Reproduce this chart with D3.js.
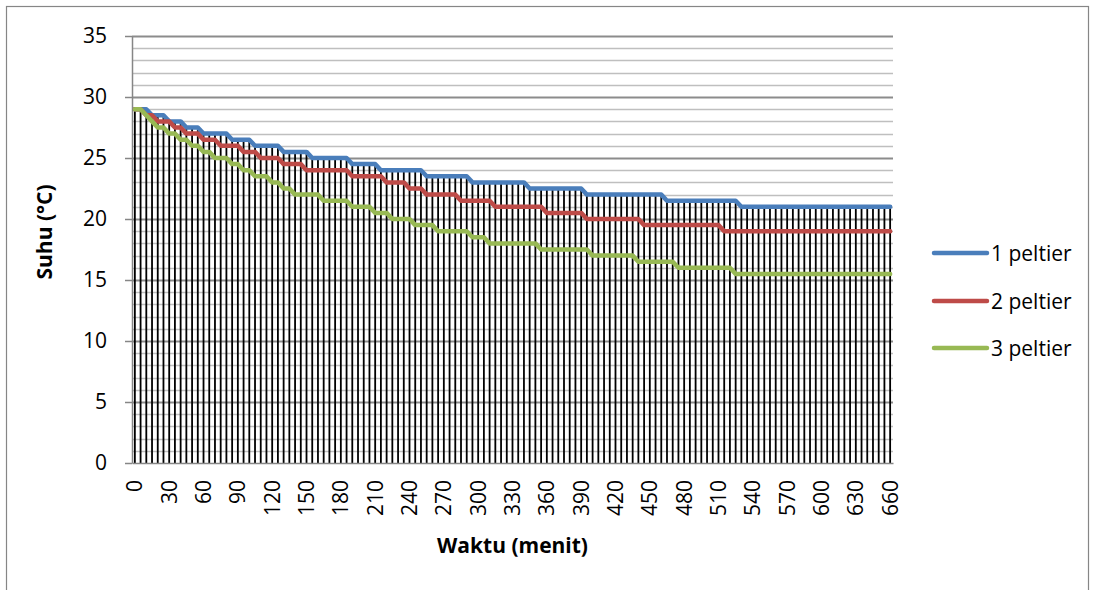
<!DOCTYPE html>
<html>
<head>
<meta charset="utf-8">
<script src="https://cdn.jsdelivr.net/npm/d3@7"></script>
<style>
  html, body { margin: 0; padding: 0; background: #fff; }
  svg { display: block; font-family: "Open Sans", "Noto Sans", sans-serif; }
</style>
</head>
<body>
<svg id="chart" width="1095" height="590"></svg>
<script>
// ---- data ----
const categories = [
  0,5,10,15,20,25,30,35,40,45,
  50,55,60,65,70,75,80,85,90,95,
  100,105,110,115,120,125,130,135,140,145,
  150,155,160,165,170,175,180,185,190,195,
  200,205,210,215,220,225,230,235,240,245,
  250,255,260,265,270,275,280,285,290,295,
  300,305,310,315,320,325,330,335,340,345,
  350,355,360,365,370,375,380,385,390,395,
  400,405,410,415,420,425,430,435,440,445,
  450,455,460,465,470,475,480,485,490,495,
  500,505,510,515,520,525,530,535,540,545,
  550,555,560,565,570,575,580,585,590,595,
  600,605,610,615,620,625,630,635,640,645,
  650,655,660
];
const seriesNames = ["1 peltier", "2 peltier", "3 peltier"];
const peltier1 = [
  29,29,29, 28.5,28.5,28.5, 28,28,28, 27.5,27.5,27.5,
  27,27,27,27,27, 26.5,26.5,26.5,26.5, 26,26,26,26,26,
  25.5,25.5,25.5,25.5,25.5, 25,25,25,25,25,25,25,
  24.5,24.5,24.5,24.5,24.5, 24,24,24,24,24,24,24,24,
  23.5,23.5,23.5,23.5,23.5,23.5,23.5,23.5,
  23,23,23,23,23,23,23,23,23,23,
  22.5,22.5,22.5,22.5,22.5,22.5,22.5,22.5,22.5,22.5,
  22,22,22,22,22,22,22,22,22,22,22,22,22,22,
  21.5,21.5,21.5,21.5,21.5,21.5,21.5,21.5,21.5,21.5,21.5,21.5,21.5,
  21,21,21,21,21,21,21,21,21,21,21,21,21,21,21,21,21,21,21,21,21,21,21,21,21,21,21
];
const peltier2 = [
  29,29, 28.5,28.5, 28,28,28, 27.5,27.5, 27,27,27, 26.5,26.5,26.5,
  26,26,26,26, 25.5,25.5,25.5, 25,25,25,25, 24.5,24.5,24.5,24.5,
  24,24,24,24,24,24,24,24, 23.5,23.5,23.5,23.5,23.5,23.5,
  23,23,23,23, 22.5,22.5,22.5, 22,22,22,22,22,22,
  21.5,21.5,21.5,21.5,21.5,21.5, 21,21,21,21,21,21,21,21,21,
  20.5,20.5,20.5,20.5,20.5,20.5,20.5, 20,20,20,20,20,20,20,20,20,20,
  19.5,19.5,19.5,19.5,19.5,19.5,19.5,19.5,19.5,19.5,19.5,19.5,19.5,19.5,
  19,19,19,19,19,19,19,19,19,19,19,19,19,19,19,19,19,19,19,19,19,19,19,19,19,19,19,19,19,19
];
const peltier3 = [
  29,29, 28.5, 28, 27.5,27.5, 27,27, 26.5,26.5, 26,26, 25.5,25.5,
  25,25,25, 24.5,24.5, 24,24, 23.5,23.5,23.5, 23,23, 22.5,22.5,
  22,22,22,22,22, 21.5,21.5,21.5,21.5,21.5, 21,21,21,21, 20.5,20.5,20.5,
  20,20,20,20, 19.5,19.5,19.5,19.5, 19,19,19,19,19,19, 18.5,18.5,18.5,
  18,18,18,18,18,18,18,18,18, 17.5,17.5,17.5,17.5,17.5,17.5,17.5,17.5,17.5,
  17,17,17,17,17,17,17,17, 16.5,16.5,16.5,16.5,16.5,16.5,16.5,
  16,16,16,16,16,16,16,16,16,16,
  15.5,15.5,15.5,15.5,15.5,15.5,15.5,15.5,15.5,15.5,15.5,15.5,15.5,15.5,
  15.5,15.5,15.5,15.5,15.5,15.5,15.5,15.5,15.5,15.5,15.5,15.5,15.5,15.5
];
const xTickLabels = [0,30,60,90,120,150,180,210,240,270,300,330,360,390,420,450,480,510,540,570,600,630,660];
const yTickLabels = [0,5,10,15,20,25,30,35];
const yMinorTicks = [1,2,3,4,6,7,8,9,11,12,13,14,16,17,18,19,21,22,23,24,26,27,28,29,31,32,33,34];
const colors = ["#4A7EBB", "#BE4B48", "#98B954"];
const xTitle = "Waktu (menit)";
const yTitle = "Suhu (°C)";

// ---- chart ----
const allSeries = [peltier1, peltier2, peltier3];
const svg = d3.select("#chart");
const L = 132, R = 893, T = 36, B = 463;

const x = d3.scaleBand().domain(categories).range([L, R]);
const cx = d => x(d) + x.bandwidth() / 2;
const y = d3.scaleLinear().domain([0, 35]).range([B, T]);

// chart area border
svg.append("rect")
  .attr("x", 6.5).attr("y", 6.5).attr("width", 1082).attr("height", 620)
  .attr("fill", "none").attr("stroke", "#868686").attr("stroke-width", 1.2);

// minor gridlines
svg.append("g").selectAll("line").data(yMinorTicks).join("line")
  .attr("x1", L).attr("x2", R)
  .attr("y1", d => Math.round(y(d)) + 0.5).attr("y2", d => Math.round(y(d)) + 0.5)
  .attr("stroke", "#BFBFBF").attr("stroke-width", 1.5);

// major gridlines
svg.append("g").selectAll("line").data(yTickLabels.filter(d => d > 0)).join("line")
  .attr("x1", L).attr("x2", R)
  .attr("y1", d => Math.round(y(d)) + 0.5).attr("y2", d => Math.round(y(d)) + 0.5)
  .attr("stroke", "#8C8C8C").attr("stroke-width", 1.8);

// drop lines
svg.append("g").selectAll("line").data(categories).join("line")
  .attr("x1", d => cx(d)).attr("x2", d => cx(d))
  .attr("y1", (d, i) => y(d3.max(allSeries, s => s[i])))
  .attr("y2", B)
  .attr("stroke", "#000").attr("stroke-width", 1.8);

// axes
const yAxis = d3.axisLeft(y).tickValues(yTickLabels).tickSize(7).tickSizeOuter(0).tickPadding(18);
const gy = svg.append("g").attr("transform", `translate(${L},0)`).call(yAxis);
gy.select(".domain").attr("stroke", "#868686").attr("stroke-width", 1.5);
gy.selectAll(".tick line").attr("stroke", "#868686").attr("stroke-width", 1.5);
gy.selectAll(".tick text").attr("font-size", 21).attr("fill", "#000")
  .attr("font-family", "'Open Sans', sans-serif");

const xAxis = d3.axisBottom(x).tickValues(xTickLabels).tickSize(0).tickSizeOuter(0).tickFormat(d => String(d));
const gx = svg.append("g").attr("transform", `translate(0,${B})`).call(xAxis);
gx.select(".domain").attr("stroke", "#868686").attr("stroke-width", 1.5);
gx.selectAll(".tick text")
  .attr("transform", "rotate(-90)")
  .attr("x", -17).attr("y", 0).attr("dy", "0.36em")
  .attr("text-anchor", "end")
  .attr("font-size", 21).attr("fill", "#000")
  .attr("font-family", "'Open Sans', sans-serif");

// series lines
const line = d3.line().x((d, i) => cx(categories[i])).y(d => y(d));
svg.append("g").selectAll("path").data(allSeries).join("path")
  .attr("d", d => line(d))
  .attr("fill", "none")
  .attr("stroke", (d, i) => colors[i])
  .attr("stroke-width", 4.5)
  .attr("stroke-linejoin", "round")
  .attr("stroke-linecap", "round");

// axis titles
svg.append("text").attr("x", (L + R) / 2).attr("y", 553)
  .attr("text-anchor", "middle").attr("font-weight", "bold").attr("font-size", 21)
  .text(xTitle);
svg.append("text").attr("transform", "translate(52,232) rotate(-90)")
  .attr("text-anchor", "middle").attr("font-weight", "bold").attr("font-size", 21)
  .text(yTitle);

// legend
const legendY = [253, 301, 348];
const lg = svg.append("g").selectAll("g").data(seriesNames).join("g")
  .attr("transform", (d, i) => `translate(0,${legendY[i]})`);
lg.append("line").attr("x1", 934).attr("x2", 987).attr("y1", 0).attr("y2", 0)
  .attr("stroke", (d, i) => colors[i]).attr("stroke-width", 4.5).attr("stroke-linecap", "round");
lg.append("text").attr("x", 991).attr("y", 0).attr("dy", "0.36em")
  .attr("font-size", 21).text(d => d);
</script>
</body>
</html>
